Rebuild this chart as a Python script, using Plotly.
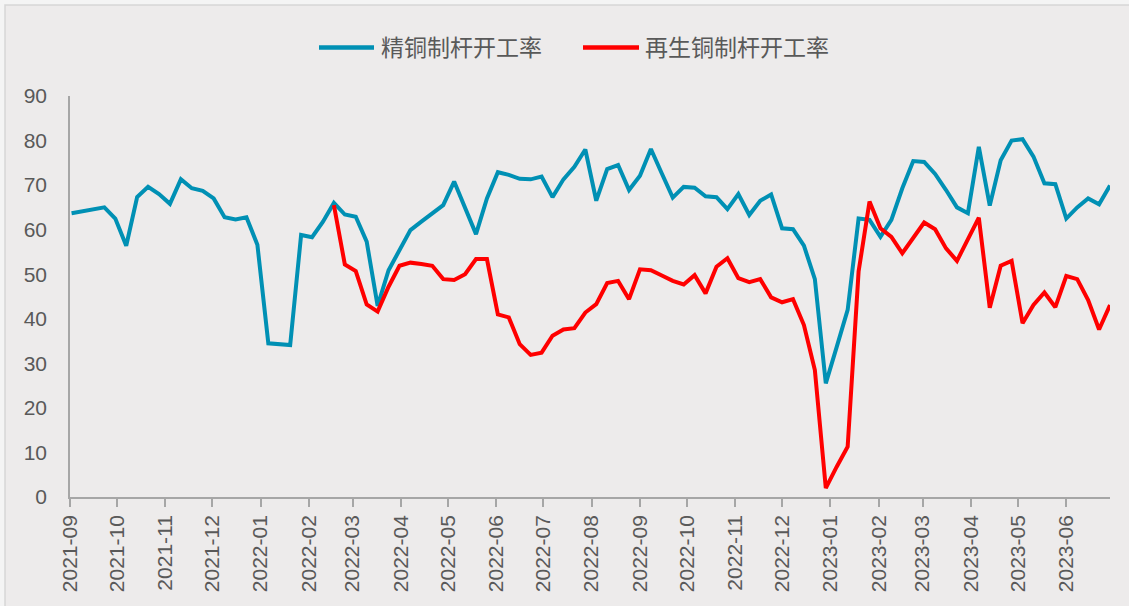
import pandas as pd
import plotly.graph_objects as go

# Weekly observation dates (Thursdays)
week_dates = pd.date_range(start="2021-09-02", periods=96, freq="7D")

# 精铜制杆开工率 (%), weeks with no reading are None
refined_rate = [
    63.7, None, None, 65.0, 62.5, 56.4, 67.3, 69.6, 68.0, 65.8,
    71.3, 69.3, 68.7, 67.0, 62.8, 62.3, 62.8, 56.6, 34.5, 34.3,
    34.1, 58.8, 58.3, 61.8, 66.0, 63.4, 62.9, 57.3, 42.9, 50.9,
    55.4, 59.9, 61.8, 63.7, 65.5, 70.8, 65.1, 59.0, 67.0, 72.9,
    72.3, 71.4, 71.3, 71.9, 67.3, 71.3, 74.1, 78.0, 66.5, 73.6,
    74.5, 68.9, 72.1, 78.1, 72.6, 67.2, 69.6, 69.4, 67.5, 67.3,
    64.6, 68.0, 63.3, 66.5, 67.9, 60.3, 60.1, 56.4, 48.9, 25.5,
    33.7, 42.0, 62.5, 62.2, 58.4, 62.2, 69.3, 75.4, 75.2, 72.5,
    68.9, 65.0, 63.7, 78.6, 65.4, 75.6, 80.0, 80.3, 76.4, 70.4,
    70.2, 62.5, 65.0, 67.0, 65.7, 69.9,
]

# 再生铜制杆开工率 (%), series begins at week 24
recycled_start = 24
recycled_rate = [
    65.5, 52.2, 50.7, 43.2, 41.6, 47.2, 51.9, 52.6, 52.3, 51.9,
    48.9, 48.7, 50.0, 53.4, 53.4, 41.0, 40.3, 34.3, 31.9, 32.4,
    36.2, 37.6, 37.9, 41.4, 43.3, 48.0, 48.5, 44.4, 51.1, 50.9,
    49.7, 48.5, 47.7, 49.8, 45.7, 51.7, 53.6, 49.1, 48.2, 48.9,
    44.8, 43.7, 44.4, 38.6, 28.5, 2.0, 6.8, 11.3, 50.6, 66.3,
    60.3, 58.4, 54.7, 58.2, 61.6, 60.1, 55.8, 53.0, 57.9, 62.7,
    42.5, 51.9, 53.0, 39.0, 43.1, 45.9, 42.6, 49.6, 48.9, 44.2,
    37.6, 43.1,
]

series_names = ["精铜制杆开工率", "再生铜制杆开工率"]
series_colors = ["#0090B4", "#FF0000"]

W, H = 1129, 606
ML, MR, MT, MB = 70, 19, 96, 109
plot_w = W - ML - MR
plot_h = H - MT - MB


def px_to_paper_x(px):
    return (px - ML) / plot_w


def px_to_paper_y(py):
    return (H - MB - py) / plot_h


fig = go.Figure()
fig.add_trace(go.Scatter(
    x=week_dates, y=refined_rate, mode="lines", name=series_names[0],
    line=dict(color=series_colors[0], width=4), connectgaps=True,
    showlegend=False,
))
fig.add_trace(go.Scatter(
    x=week_dates[recycled_start:], y=recycled_rate, mode="lines",
    name=series_names[1],
    line=dict(color=series_colors[1], width=4),
    showlegend=False,
))

axis_grey = "#A6A6A6"
text_grey = "#595959"

shapes = [
    # chart panel with a thin frame
    dict(type="rect", xref="paper", yref="paper", layer="below",
         x0=px_to_paper_x(5), x1=px_to_paper_x(W + 10),
         y0=px_to_paper_y(H + 10), y1=px_to_paper_y(5),
         fillcolor="#EDEBEB", line=dict(color="#D6D6D6", width=1.5)),
]

# legend entries: sample line + label
legend_items = [(319, 374, 379), (583, 639, 643)]
annotations = []
for (lx0, lx1, tx), name, color in zip(legend_items, series_names, series_colors):
    shapes.append(dict(type="line", xref="paper", yref="paper",
                       x0=px_to_paper_x(lx0), x1=px_to_paper_x(lx1),
                       y0=px_to_paper_y(47.5), y1=px_to_paper_y(47.5),
                       line=dict(color=color, width=4.5)))
    annotations.append(dict(xref="paper", yref="paper",
                            x=px_to_paper_x(tx), y=px_to_paper_y(46),
                            xanchor="left", yanchor="middle", showarrow=False,
                            text=name,
                            font=dict(family="Noto Sans CJK SC", size=23,
                                      color=text_grey)))

fig.update_layout(
    width=W, height=H,
    margin=dict(l=ML, r=MR, t=MT, b=MB, pad=0, autoexpand=False),
    paper_bgcolor="#F4F4F4",
    plot_bgcolor="rgba(0,0,0,0)",
    shapes=shapes,
    annotations=annotations,
    font=dict(family="Liberation Sans, Arial", size=21, color=text_grey),
)

fig.update_xaxes(
    type="date", automargin=False,
    range=["2021-09-01", "2023-06-29"],
    dtick="M1", tick0="2021-09-01", tickformat="%Y-%m",
    tickangle=-90,
    showgrid=False, zeroline=False,
    showline=True, linecolor=axis_grey, linewidth=1.5,
    ticks="outside", ticklen=8, tickcolor=axis_grey, tickwidth=1.5,
    ticklabelstandoff=0,
    tickfont=dict(size=21, color=text_grey),
)
fig.update_yaxes(
    range=[0, 90], dtick=10, automargin=False,
    showgrid=False, zeroline=False,
    showline=True, linecolor=axis_grey, linewidth=1.5,
    ticks="", ticklabelstandoff=17,
    tickfont=dict(size=21, color=text_grey),
)

fig.write_html("out.html")
